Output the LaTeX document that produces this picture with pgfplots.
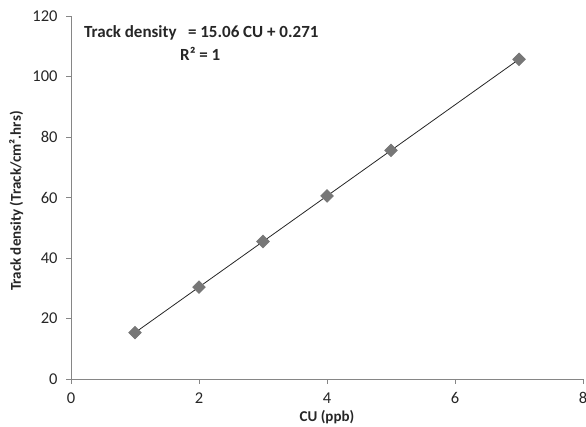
\documentclass[border=0pt]{standalone}
\usepackage{pgfplots}
\pgfplotsset{compat=1.18}
\usepackage{fontspec}
\setmainfont{Carlito}
\definecolor{axgray}{HTML}{868686}
\definecolor{mkgray}{HTML}{777777}
\begin{document}
\begin{tikzpicture}
\begin{axis}[
  scale only axis, width=512pt, height=363pt,
  xmin=0, xmax=8, ymin=0, ymax=120,
  xtick={0,2,4,6,8}, ytick={0,20,...,120},
  axis x line=bottom, axis y line=left,
  axis line style={-, draw=axgray, line width=0.9pt},
  tick style={draw=axgray, line width=0.9pt},
  tick align=outside, major tick length=5pt,
  /pgf/number format/assume math mode=true,
  tick label style={font=\fontsize{16.5}{18}\selectfont, text=black!85},
  xticklabel style={yshift=-5pt},
  yticklabel style={xshift=-5pt},
  xlabel={\textbf{CU (ppb)}},
  ylabel={\textbf{Track density (Track/cm².hrs)}},
  label style={font=\fontsize{15}{17}\selectfont, text=black!85},
  xlabel style={at={(axis description cs:0.5,-0.105)}, anchor=center},
  ylabel style={at={(axis description cs:-0.107,0.49)}, anchor=center},
  clip=false,
]
\addplot[black!85, line width=0.8pt, mark=square*, mark size=4.4pt,
  mark options={fill=mkgray, draw=mkgray, rotate=45}]
  coordinates {(1,15.33)(2,30.39)(3,45.45)(4,60.51)(5,75.57)(7,105.69)};
\node[anchor=west, font=\bfseries\fontsize{17}{19}\selectfont, text=black!85]
  at (axis cs:0.15,114.4) {Track density\hspace{0.45em} = 15.06 CU + 0.271};
\node[font=\bfseries\fontsize{17}{19}\selectfont, text=black!85]
  at (axis cs:2.02,107.6) {R² = 1};
\coordinate (bl) at (rel axis cs:-0.1387,-0.1322);
\coordinate (tr) at (rel axis cs:1.00586,1.0441);
\end{axis}
\pgfresetboundingbox
\useasboundingbox (bl) rectangle (tr);
\end{tikzpicture}
\end{document}
